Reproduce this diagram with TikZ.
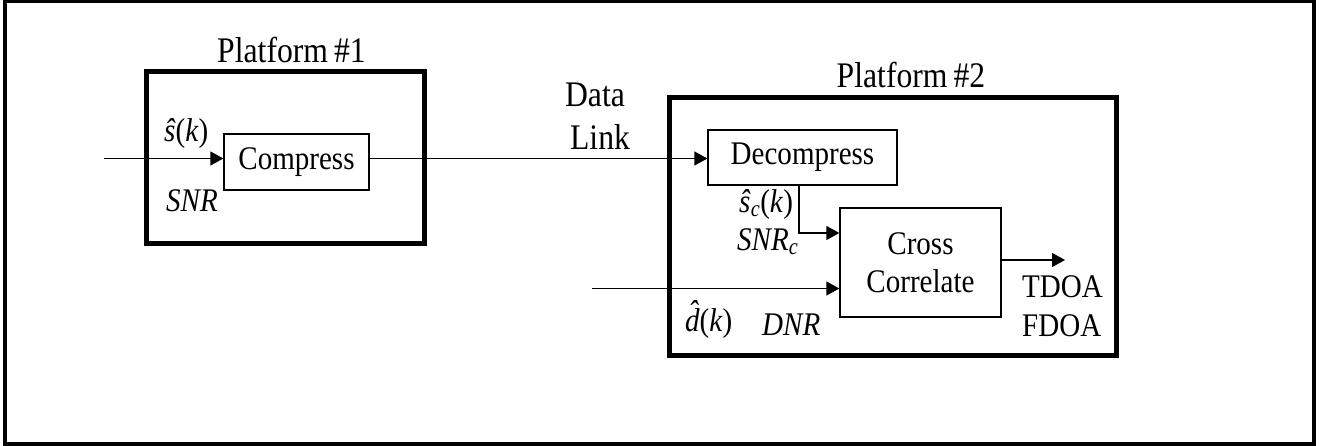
\documentclass[tikz,border=0pt]{standalone}
\usepackage{fontspec}
\setmainfont{Liberation Serif}[FakeStretch=0.88]
\usetikzlibrary{arrows.meta}
\newcommand{\fsmain}{\fontsize{33}{38}\selectfont}
\newcommand{\fsbig}{\fontsize{36}{43}\selectfont}
\newcommand{\dhat}{\textit{d\llap{\raisebox{0.24em}{ˆ}\hspace{0.06em}}}}
\tikzset{
  blk/.style={draw, line width=1.3pt, inner sep=0pt, font=\fsmain, align=center},
  plat/.style={draw, line width=5pt, inner sep=0pt},
  sig/.style={line width=1.3pt, -{Triangle[length=13pt,width=14pt]}},
  lab/.style={inner sep=0pt, anchor=base west, font=\fsmain},
  ttl/.style={inner sep=0pt, anchor=base, font=\fsbig},
}
\begin{document}
\begin{tikzpicture}[x=1pt,y=-1pt]
\useasboundingbox (0,0) rectangle (1325,446);
\draw[line width=3.5pt] (5,1.5) rectangle (1314,444);

% platforms
\node[plat, minimum width=277.5pt, minimum height=172pt] (p1) at (285.25,158) {};
\node[plat, minimum width=447pt, minimum height=257pt] (p2) at (892.5,226.5) {};
\node[ttl] (p1t) at (291.5,63) {Platform\,\#1};
\node[ttl] (p2t) at (911,88) {Platform\,\#2};

% blocks
\node[blk, minimum width=145pt, minimum height=56pt] (comp) at (296.5,162) {Compress};
\node[blk, minimum width=189pt, minimum height=55pt] (decomp) at (802.5,157.5) {Decompress};
\node[blk, minimum width=161pt, minimum height=109pt] (cc) at (920.5,262.5) {Cross\\Correlate};

% connectors
\coordinate (in1) at (104,158.5);
\coordinate (dtap) at (799,233);
\coordinate (in2) at (592,288.5);
\coordinate (out) at (1065,260);
\draw[sig] (in1) -- (in1 -| comp.west);
\draw[sig] (in1 -| comp.east) -- (in1 -| decomp.west);
\draw[sig] (decomp.south -| dtap) -- (dtap) -- (dtap -| cc.west);
\draw[sig] (in2) -- (in2 -| cc.west);
\draw[sig] (out -| cc.east) -- (out);

% labels
\node[ttl] (data) at (595,107) {Data};
\node[ttl] (link) at (600,150) {Link};
\node[lab] (sk) at (164,142) {\textit{\^{s}}(\textit{k})};
\node[lab] (snr) at (166,212) {\textit{SNR}};
\node[lab] (sck) at (739,213) {\textit{\^{s}}\textsubscript{\textit{c}}(\textit{k})};
\node[lab] (snrc) at (737,251) {\textit{SNR}\textsubscript{\textit{c}}};
\node[lab] (dk) at (685,331) {\dhat(\textit{k})};
\node[lab] (dnr) at (762,335) {\textit{DNR}};
\node[lab] (tdoa) at (1022,298) {TDOA};
\node[lab] (fdoa) at (1022,337) {FDOA};
\end{tikzpicture}
\end{document}
